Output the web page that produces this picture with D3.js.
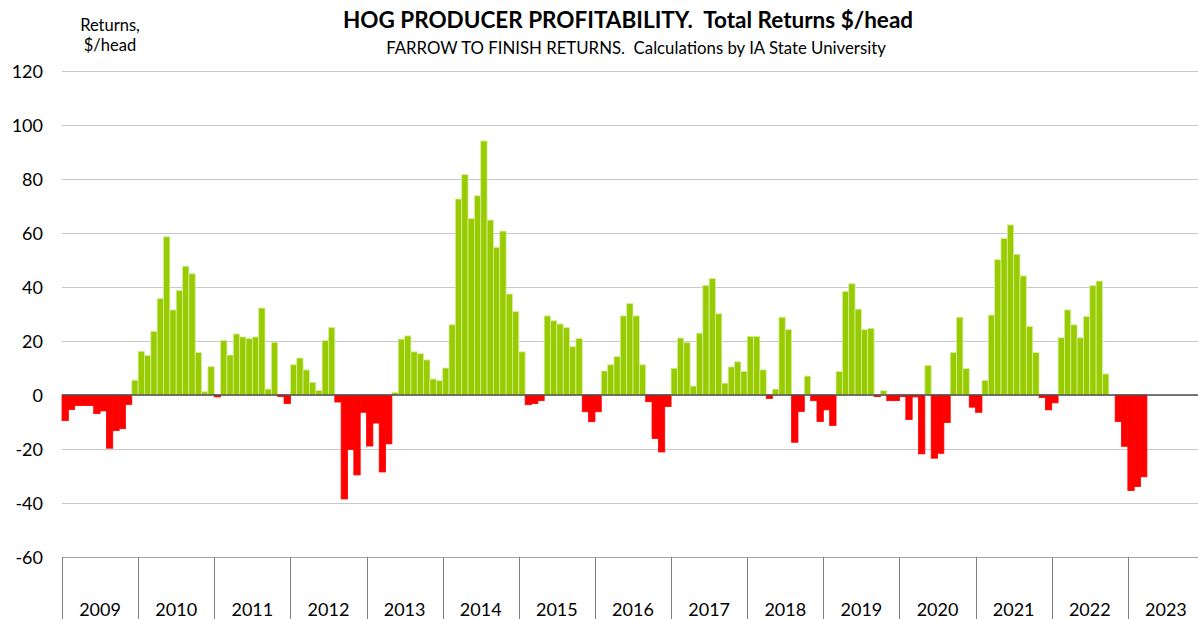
<!DOCTYPE html>
<html>
<head>
<meta charset="utf-8">
<script src="https://cdn.jsdelivr.net/npm/d3@7"></script>
<style>
  body { margin: 0; background: #fff; }
  svg { display: block; font-family: Lato, "Noto Sans", sans-serif; }
</style>
</head>
<body>
<div id="chart"></div>
<script>
//----------------------------------
// Data (monthly returns, $/head)
//----------------------------------
const years = [2009, 2010, 2011, 2012, 2013, 2014, 2015, 2016, 2017, 2018, 2019, 2020, 2021, 2022, 2023];

const r2009 = [-9.5, -5.4, -3.9, -3.9, -3.9, -6.9, -5.9, -19.7, -13.2, -12.5, -3.5, 5.5];
const r2010 = [16.2, 14.6, 23.6, 35.7, 58.6, 31.5, 38.7, 47.7, 44.9, 15.7, 1.2, 10.5];
const r2011 = [-0.7, 20.2, 14.8, 22.6, 21.5, 20.9, 21.5, 32.2, 2.2, 19.5, -0.6, -3.2];
const r2012 = [11.2, 13.7, 9.3, 4.7, 1.7, 20.2, 25.0, -2.6, -38.5, -20.2, -29.6, -6.4];
const r2013 = [-18.9, -10.4, -28.5, -18.1, 0.9, 20.7, 21.9, 16.0, 15.3, 13.0, 5.9, 5.3];
const r2014 = [10.0, 26.0, 72.6, 81.6, 65.4, 73.8, 94.1, 64.8, 54.7, 60.7, 37.4, 30.9];
const r2015 = [16.0, -3.6, -3.2, -2.1, 29.3, 27.5, 26.3, 25.0, 17.9, 20.9, -6.2, -9.9];
const r2016 = [-6.2, 8.9, 11.2, 14.2, 29.3, 33.9, 29.3, 11.2, -2.5, -16.1, -21.1, -4.3];
const r2017 = [9.9, 21.1, 19.4, 3.3, 22.9, 40.6, 43.1, 30.1, 4.4, 10.4, 12.3, 8.7];
const r2018 = [21.7, 21.7, 9.3, -1.3, 2.2, 28.8, 24.2, -17.5, -6.1, 7.0, -2.1, -9.8];
const r2019 = [-5.5, -11.3, 8.7, 38.3, 41.2, 31.8, 24.2, 24.7, -0.6, 1.6, -2.1, -2.1];
const r2020 = [-0.6, -9.1, -0.7, -21.8, 10.9, -23.4, -21.6, -10.2, 15.7, 28.8, 9.8, -4.5];
const r2021 = [-6.4, 5.4, 29.6, 50.1, 58.0, 63.0, 52.1, 44.1, 25.4, 15.7, -0.9, -5.5];
const r2022 = [-2.9, 21.2, 31.5, 26.0, 21.2, 29.0, 40.5, 42.2, 7.8, 0, -9.8, -19.0];
const r2023 = [-35.4, -33.9, -30.3, null, null, null, null, null, null, null, null, null];

const yTicks = [-60, -40, -20, 0, 20, 40, 60, 80, 100, 120];

const returns = [].concat(r2009, r2010, r2011, r2012, r2013, r2014, r2015, r2016,
                          r2017, r2018, r2019, r2020, r2021, r2022, r2023);

//----------------------------------
// SVG Section
//----------------------------------
const W = 1198, H = 619;
const plot = {left: 62, right: 1204, top: 71, bottom: 557};

const svg = d3.select("#chart")
    .append("svg")
    .attr("width", W)
    .attr("height", H);

// Scales
const xScale = d3.scaleBand()
    .domain(d3.range(returns.length))
    .range([plot.left, plot.right])
    .padding(0);

const yScale = d3.scaleLinear()
    .domain([-60, 120])
    .range([plot.bottom, plot.top]);

const yearScale = d3.scaleBand()
    .domain(years)
    .range([plot.left, plot.right]);

// Gridlines
svg.append("g")
    .selectAll("line")
    .data(yTicks)
    .join("line")
    .attr("x1", plot.left)
    .attr("x2", W)
    .attr("y1", d => yScale(d) + 0.5)
    .attr("y2", d => yScale(d) + 0.5)
    .attr("stroke", d => d === -60 ? "#a6a6a6" : "#c8c8c8")
    .attr("stroke-width", 1);

// Y tick labels
svg.append("g")
    .selectAll("text")
    .data(yTicks)
    .join("text")
    .attr("x", 43)
    .attr("y", d => yScale(d) + 6.5)
    .attr("text-anchor", "end")
    .style("font-size", "18px")
    .attr("fill", "#000")
    .text(d => d);

// Bars
svg.append("g")
    .selectAll("rect")
    .data(returns.map((v, i) => ({i, v})).filter(d => d.v !== null))
    .join("rect")
    .attr("x", d => xScale(d.i))
    .attr("width", xScale.bandwidth())
    .attr("y", d => yScale(Math.max(0, d.v)))
    .attr("height", d => Math.abs(yScale(d.v) - yScale(0)))
    .attr("fill", d => d.v >= 0 ? "#99cc00" : "#ff0000")
    .attr("stroke", d => d.v >= 0 ? "#d6eea0" : "#ff0000")
    .attr("stroke-width", 0.8);

// Zero line
svg.append("line")
    .attr("x1", plot.left)
    .attr("x2", W)
    .attr("y1", yScale(0))
    .attr("y2", yScale(0))
    .attr("stroke", "#505050")
    .attr("stroke-width", 1.5);

// Year separators and labels along the bottom
const yearAxis = svg.append("g");

yearAxis.selectAll("line")
    .data(years)
    .join("line")
    .attr("x1", d => Math.round(yearScale(d)) + 0.5)
    .attr("x2", d => Math.round(yearScale(d)) + 0.5)
    .attr("y1", plot.bottom)
    .attr("y2", H)
    .attr("stroke", "#808080")
    .attr("stroke-width", 1);

yearAxis.selectAll("text")
    .data(years)
    .join("text")
    .attr("x", d => yearScale(d) + yearScale.bandwidth() / 2)
    .attr("y", 616)
    .attr("text-anchor", "middle")
    .style("font-size", "18px")
    .text(d => d);

// Titles
svg.append("text")
    .attr("x", 628)
    .attr("y", 28)
    .attr("text-anchor", "middle")
    .style("font-size", "22.5px")
    .style("font-weight", "bold")
    .text("HOG PRODUCER PROFITABILITY.  Total Returns $/head")
    .attr("xml:space", "preserve");

svg.append("text")
    .attr("x", 636)
    .attr("y", 54)
    .attr("text-anchor", "middle")
    .style("font-size", "16.8px")
    .text("FARROW TO FINISH RETURNS.  Calculations by IA State University")
    .attr("xml:space", "preserve");

// Y axis caption
const caption = svg.append("text")
    .attr("text-anchor", "middle")
    .style("font-size", "16.5px");
caption.append("tspan").attr("x", 110).attr("y", 31).text("Returns,");
caption.append("tspan").attr("x", 110).attr("y", 51).text("$/head");
</script>
</body>
</html>
